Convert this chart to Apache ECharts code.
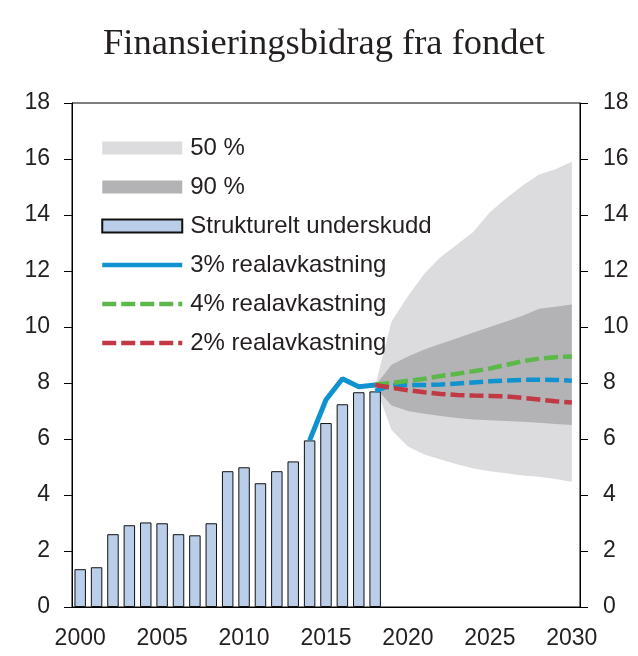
<!DOCTYPE html>
<html><head><meta charset="utf-8">
<script src="https://cdn.jsdelivr.net/npm/echarts@6/dist/echarts.min.js"></script>
<style>html,body{margin:0;padding:0;background:#fff}#c{width:638px;height:656px}</style>
</head><body><div id="c"></div>
<script>
// Categories (years)
const categories = ['2000','2001','2002','2003','2004','2005','2006','2007','2008','2009','2010',
  '2011','2012','2013','2014','2015','2016','2017','2018','2019','2020',
  '2021','2022','2023','2024','2025','2026','2027','2028','2029','2030'];
const yTicks = [0, 18, 2]; // min, max, interval

// Strukturelt underskudd 2000-2018
const structuralDeficit = [1.35,1.42,2.6,2.92,3.02,2.99,2.6,2.56,2.99,4.85,4.99,4.42,4.85,5.2,5.95,6.57,7.24,7.67,7.7];
// 3% realavkastning, history 2014-2018
const hist3Years = ['2014','2015','2016','2017','2018'];
const hist3 = [5.95,7.4,8.15,7.87,7.93];
// Projections 2018-2030
const projYears = ['2018','2019','2020','2021','2022','2023','2024','2025','2026','2027','2028','2029','2030'];
const proj3 = [7.72,7.92,7.93,7.93,7.95,7.98,8.02,8.06,8.09,8.11,8.12,8.11,8.08];
const proj4 = [7.95,8.0,8.08,8.15,8.25,8.33,8.42,8.52,8.65,8.78,8.87,8.92,8.95];
const proj2 = [7.93,7.83,7.74,7.67,7.61,7.57,7.55,7.54,7.52,7.47,7.41,7.35,7.3];
// Bands
const lightUpper = [7.9,10.2,11.1,11.9,12.5,12.95,13.4,14.1,14.6,15.05,15.45,15.63,15.9];
const lightLower = [7.9,6.32,5.73,5.45,5.27,5.1,4.95,4.85,4.78,4.7,4.65,4.57,4.47];
const darkUpper = [7.9,8.65,8.95,9.2,9.4,9.6,9.8,10.0,10.2,10.4,10.65,10.72,10.8];
const darkLower = [7.85,7.2,7.0,6.9,6.82,6.75,6.7,6.67,6.64,6.62,6.58,6.54,6.5];

const C = {
  light: '#dcdcde', dark: '#b3b3b5', bar: '#bacee9',
  blue: '#0f92d0', green: '#5cb848', red: '#c13944', text: '#231f20'
};
const FONT = 'Liberation Sans';
const DASH = [14, 5];

function pad(years, vals) {
  const out = categories.map(() => null);
  years.forEach((y, i) => { out[categories.indexOf(y)] = vals[i]; });
  return out;
}
const diff = (a, b) => a.map((v, i) => +(v - b[i]).toFixed(3));

const hidden = { lineStyle: { width: 0, opacity: 0 }, symbol: 'none', silent: true };

const option = {
  animation: false,
  backgroundColor: '#fff',
  title: {
    text: 'Finansieringsbidrag fra fondet',
    left: 98, top: 21,
    textStyle: { fontFamily: 'Liberation Serif', fontSize: 36.5, fontWeight: 'normal', color: C.text }
  },
  legend: {
    orient: 'vertical', left: 95, top: 130,
    itemWidth: 80, itemHeight: 13, itemGap: 13,
    selectedMode: false,
    textStyle: { fontFamily: FONT, fontSize: 24, color: C.text, lineHeight: 26, padding: [0, 0, 0, 3] },
    data: [
      { name: '50 %', icon: 'rect', itemStyle: { color: C.light, borderWidth: 0 } },
      { name: '90 %', icon: 'rect', itemStyle: { color: C.dark, borderWidth: 0 } },
      { name: 'Strukturelt underskudd', icon: 'rect' },
      { name: '3% realavkastning', itemStyle: { opacity: 0 }, lineStyle: { width: 4.5, color: C.blue, type: 'solid' } },
      { name: '4% realavkastning', itemStyle: { opacity: 0 }, lineStyle: { width: 4.5, color: C.green, type: DASH } },
      { name: '2% realavkastning', itemStyle: { opacity: 0 }, lineStyle: { width: 4.5, color: C.red, type: DASH } }
    ]
  },
  grid: { left: 72, right: 58, top: 103, bottom: 49, show: true, borderColor: '#000', borderWidth: 1, backgroundColor: 'transparent' },
  xAxis: {
    type: 'category', data: categories, boundaryGap: true,
    axisLine: { lineStyle: { color: '#000', width: 1 } },
    axisTick: { interval: 0, length: 8, lineStyle: { color: '#000' } },
    axisLabel: { interval: 4, fontFamily: FONT, fontSize: 23, color: C.text, margin: 20 },
    splitLine: { show: false }
  },
  yAxis: [
    { type: 'value', min: yTicks[0], max: yTicks[1], interval: yTicks[2], position: 'left',
      axisLine: { show: true, lineStyle: { color: '#000' } },
      axisTick: { show: true, length: 8, lineStyle: { color: '#000' } },
      axisLabel: { fontFamily: FONT, fontSize: 23, color: C.text, margin: 22 },
      splitLine: { show: false } },
    { type: 'value', min: yTicks[0], max: yTicks[1], interval: yTicks[2], position: 'right',
      axisLine: { show: true, lineStyle: { color: '#000' } },
      axisTick: { show: true, length: 8, lineStyle: { color: '#000' } },
      axisLabel: { fontFamily: FONT, fontSize: 23, color: C.text, margin: 23 },
      splitLine: { show: false } }
  ],
  series: [
    Object.assign({ type: 'line', name: 'lightBase', stack: 'light', z: 1, data: pad(projYears, lightLower) }, hidden),
    { type: 'line', name: '50 %', stack: 'light', z: 1, symbol: 'none', color: C.light,
      lineStyle: { width: 0, opacity: 0 }, areaStyle: { color: C.light, opacity: 1 },
      data: pad(projYears, diff(lightUpper, lightLower)) },
    Object.assign({ type: 'line', name: 'darkBase', stack: 'dark', z: 1, data: pad(projYears, darkLower) }, hidden),
    { type: 'line', name: '90 %', stack: 'dark', z: 1, symbol: 'none', color: C.dark,
      lineStyle: { width: 0, opacity: 0 }, areaStyle: { color: C.dark, opacity: 1 },
      data: pad(projYears, diff(darkUpper, darkLower)) },
    { type: 'bar', name: 'Strukturelt underskudd', z: 2, barWidth: '70%',
      itemStyle: { color: C.bar, borderColor: '#111', borderWidth: 1 },
      data: structuralDeficit },
    { type: 'line', name: '3% realavkastning', z: 3, symbol: 'none', color: C.blue,
      lineStyle: { color: C.blue, width: 5 }, data: pad(hist3Years, hist3) },
    { type: 'line', name: '3% fremskrivning', z: 3, symbol: 'none', color: C.blue,
      lineStyle: { color: C.blue, width: 4.5, type: DASH }, data: pad(projYears, proj3) },
    { type: 'line', name: '4% realavkastning', z: 3, symbol: 'none', color: C.green,
      lineStyle: { color: C.green, width: 4.5, type: DASH }, data: pad(projYears, proj4) },
    { type: 'line', name: '2% realavkastning', z: 3, symbol: 'none', color: C.red,
      lineStyle: { color: C.red, width: 4.5, type: DASH }, data: pad(projYears, proj2) }
  ]
};
const chart = echarts.init(document.getElementById('c'), null, { renderer: 'canvas' });
chart.setOption(option);
</script></body></html>
